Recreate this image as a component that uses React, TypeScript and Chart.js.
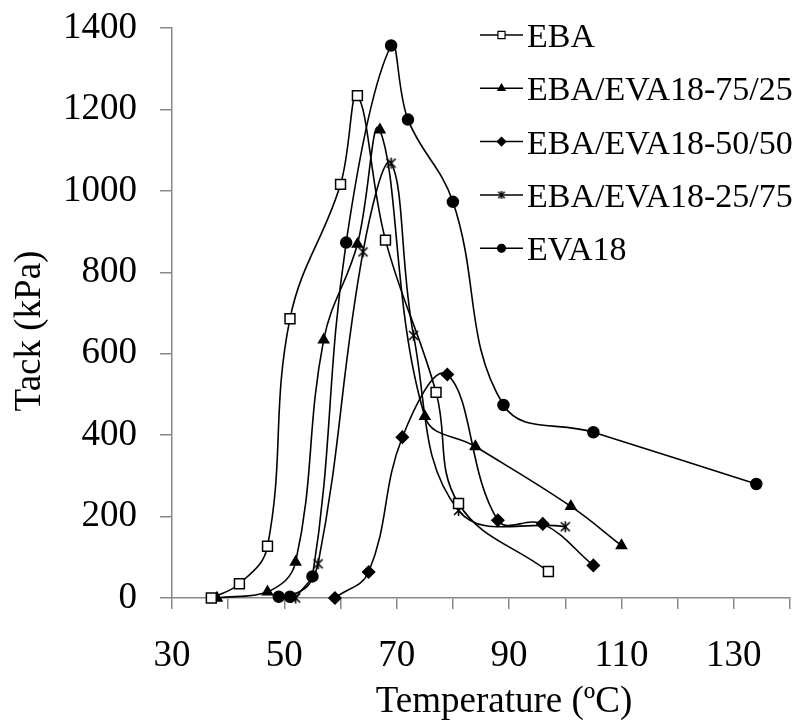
import React, { useEffect, useRef } from 'react';
import { Chart, registerables } from 'chart.js';
import { drawPoint } from 'chart.js/helpers';

Chart.register(...registerables);

// ---- data ----
const SERIES_LABELS = ['EBA', 'EBA/EVA18-75/25', 'EBA/EVA18-50/50', 'EBA/EVA18-25/75', 'EVA18'];

const ebaTemp = [37, 42, 47, 51, 60, 63, 68, 77, 81, 97];
const ebaTack = [0, 35, 127, 686, 1016, 1234, 879, 505, 232, 65];

const b7525Temp = [38, 47, 52, 57, 63, 67, 75, 84, 101, 110];
const b7525Tack = [0, 15, 88, 634, 869, 1150, 446, 372, 225, 129];

const b5050Temp = [59, 65, 71, 79, 88, 96, 105];
const b5050Tack = [0, 64, 395, 549, 191, 182, 80];

const b2575Temp = [52, 56, 64, 69, 73, 81, 100];
const b2575Tack = [0, 84, 850, 1068, 645, 215, 175];

const eva18Temp = [49, 51, 55, 61, 69, 72, 80, 89, 105, 134];
const eva18Tack = [3, 3, 53, 873, 1357, 1175, 973, 474, 407, 280];

const X_TICK_LABELS = [30, 50, 70, 90, 110, 130];
const X_TITLE = 'Temperature (ºC)';
const Y_TITLE = 'Tack (kPa)';

const FONT = '"Liberation Serif", "Times New Roman", serif';

const zip = (xs: number[], ys: number[]) => xs.map((x, i) => ({ x, y: ys[i] }));

// Excel-like asterisk marker (vertical bar + X)
function makeAsterisk(size: number, lw: number) {
  const c = document.createElement('canvas');
  c.width = size;
  c.height = size;
  const g = c.getContext('2d')!;
  const m = size / 2;
  const r = size / 2 - 1;
  const d = r * 0.82;
  g.strokeStyle = '#000';
  g.lineWidth = lw;
  g.lineCap = 'butt';
  g.beginPath();
  g.moveTo(m, m - r);
  g.lineTo(m, m + r);
  g.moveTo(m - d, m - d);
  g.lineTo(m + d, m + d);
  g.moveTo(m + d, m - d);
  g.lineTo(m - d, m + d);
  g.stroke();
  return c;
}

const overlayPlugin = {
  id: 'overlay',
  afterDraw(chart: any) {
    const ctx = chart.ctx;
    const area = chart.chartArea;
    ctx.save();
    // axis titles
    ctx.fillStyle = '#000';
    ctx.font = `37px ${FONT}`;
    ctx.textAlign = 'center';
    ctx.textBaseline = 'alphabetic';
    ctx.fillText(X_TITLE, area.left + 332, 711.5);
    ctx.save();
    ctx.translate(40, area.top + 303);
    ctx.rotate(-Math.PI / 2);
    ctx.fillText(Y_TITLE, 0, 0);
    ctx.restore();

    // legend inside the plot area
    ctx.font = `34px ${FONT}`;
    ctx.textAlign = 'left';
    chart.data.datasets.forEach((ds: any, i: number) => {
      const base = 47 + i * 53.3;
      const ly = base - 12;
      ctx.strokeStyle = '#000';
      ctx.lineWidth = 1.5;
      ctx.beginPath();
      ctx.moveTo(480, ly);
      ctx.lineTo(523, ly);
      ctx.stroke();
      ctx.fillStyle = ds.pointBackgroundColor;
      ctx.strokeStyle = '#000';
      ctx.lineWidth = 1.2;
      const style = ds.legendPointStyle || ds.pointStyle;
      drawPoint(ctx, { pointStyle: style, radius: ds.pointRadius * 0.72, borderWidth: 1.2, rotation: 0 } as any, 501.5, ly);
      ctx.fillStyle = '#000';
      ctx.fillText(ds.label, 527, base);
    });
    ctx.restore();
  },
};

export default function App() {
  const ref = useRef<HTMLCanvasElement | null>(null);

  useEffect(() => {
    if (!ref.current) return;
    const seriesTemps = [ebaTemp, b7525Temp, b5050Temp, b2575Temp, eva18Temp];
    const seriesTacks = [ebaTack, b7525Tack, b5050Tack, b2575Tack, eva18Tack];
    const asterisk = makeAsterisk(13, 1.6);
    const asteriskSmall = makeAsterisk(10, 1.4);
    const pointStyles: any[] = ['rect', 'triangle', 'rectRot', asterisk, 'circle'];
    const legendStyles: any[] = ['rect', 'triangle', 'rectRot', asteriskSmall, 'circle'];
    const pointFills = ['#ffffff', '#000000', '#000000', '#000000', '#000000'];
    const pointRadii = [7, 5.8, 6, 6.5, 5.5];

    const datasets = SERIES_LABELS.map((label, i) => ({
      label,
      data: zip(seriesTemps[i], seriesTacks[i]),
      showLine: true,
      borderColor: '#000',
      borderWidth: 1.6,
      tension: 0.4,
      pointStyle: pointStyles[i],
      legendPointStyle: legendStyles[i],
      pointRadius: pointRadii[i],
      pointBackgroundColor: pointFills[i],
      pointBorderColor: '#000',
      pointBorderWidth: 1.5,
      clip: false as any,
    }));

    const chart = new Chart(ref.current, {
      type: 'scatter',
      data: { datasets: datasets as any },
      options: {
        responsive: false,
        animation: false,
        devicePixelRatio: 1,
        layout: { padding: { top: 28, right: 13, left: 0, bottom: 0 } },
        plugins: { legend: { display: false }, tooltip: { enabled: false } },
        scales: {
          x: {
            type: 'linear',
            min: 30,
            max: 140,
            afterFit: (s: any) => {
              s.height = 126;
              s.paddingLeft = 0;
              s.paddingRight = 0;
              s.paddingTop = 0;
              s.paddingBottom = 0;
            },
            ticks: {
              stepSize: 10,
              autoSkip: false,
              maxRotation: 0,
              padding: 25,
              color: '#000',
              font: { family: FONT, size: 37 },
              callback: (v: any) => (X_TICK_LABELS.includes(Number(v)) ? String(v) : ''),
            },
            grid: { drawOnChartArea: false, drawTicks: true, tickLength: 11, color: '#888', lineWidth: 1.5 },
            border: { color: '#888', width: 1.5 },
          },
          y: {
            type: 'linear',
            min: 0,
            max: 1400,
            afterFit: (s: any) => {
              s.width = 172;
              s.paddingLeft = 0;
              s.paddingRight = 0;
              s.paddingTop = 0;
              s.paddingBottom = 0;
            },
            ticks: {
              stepSize: 200,
              padding: 23,
              color: '#000',
              font: { family: FONT, size: 37 },
              callback: (v: any) => String(v),
            },
            grid: { drawOnChartArea: false, drawTicks: true, tickLength: 12, color: '#888', lineWidth: 1.5 },
            border: { color: '#888', width: 1.5 },
          },
        },
      },
      plugins: [overlayPlugin],
    });
    return () => chart.destroy();
  }, []);

  return (
    <div style={{ position: 'absolute', left: 0, top: 0, width: 803, height: 724, background: '#fff' }}>
      <canvas ref={ref} width={803} height={724} style={{ width: 803, height: 724, display: 'block' }} />
    </div>
  );
}
